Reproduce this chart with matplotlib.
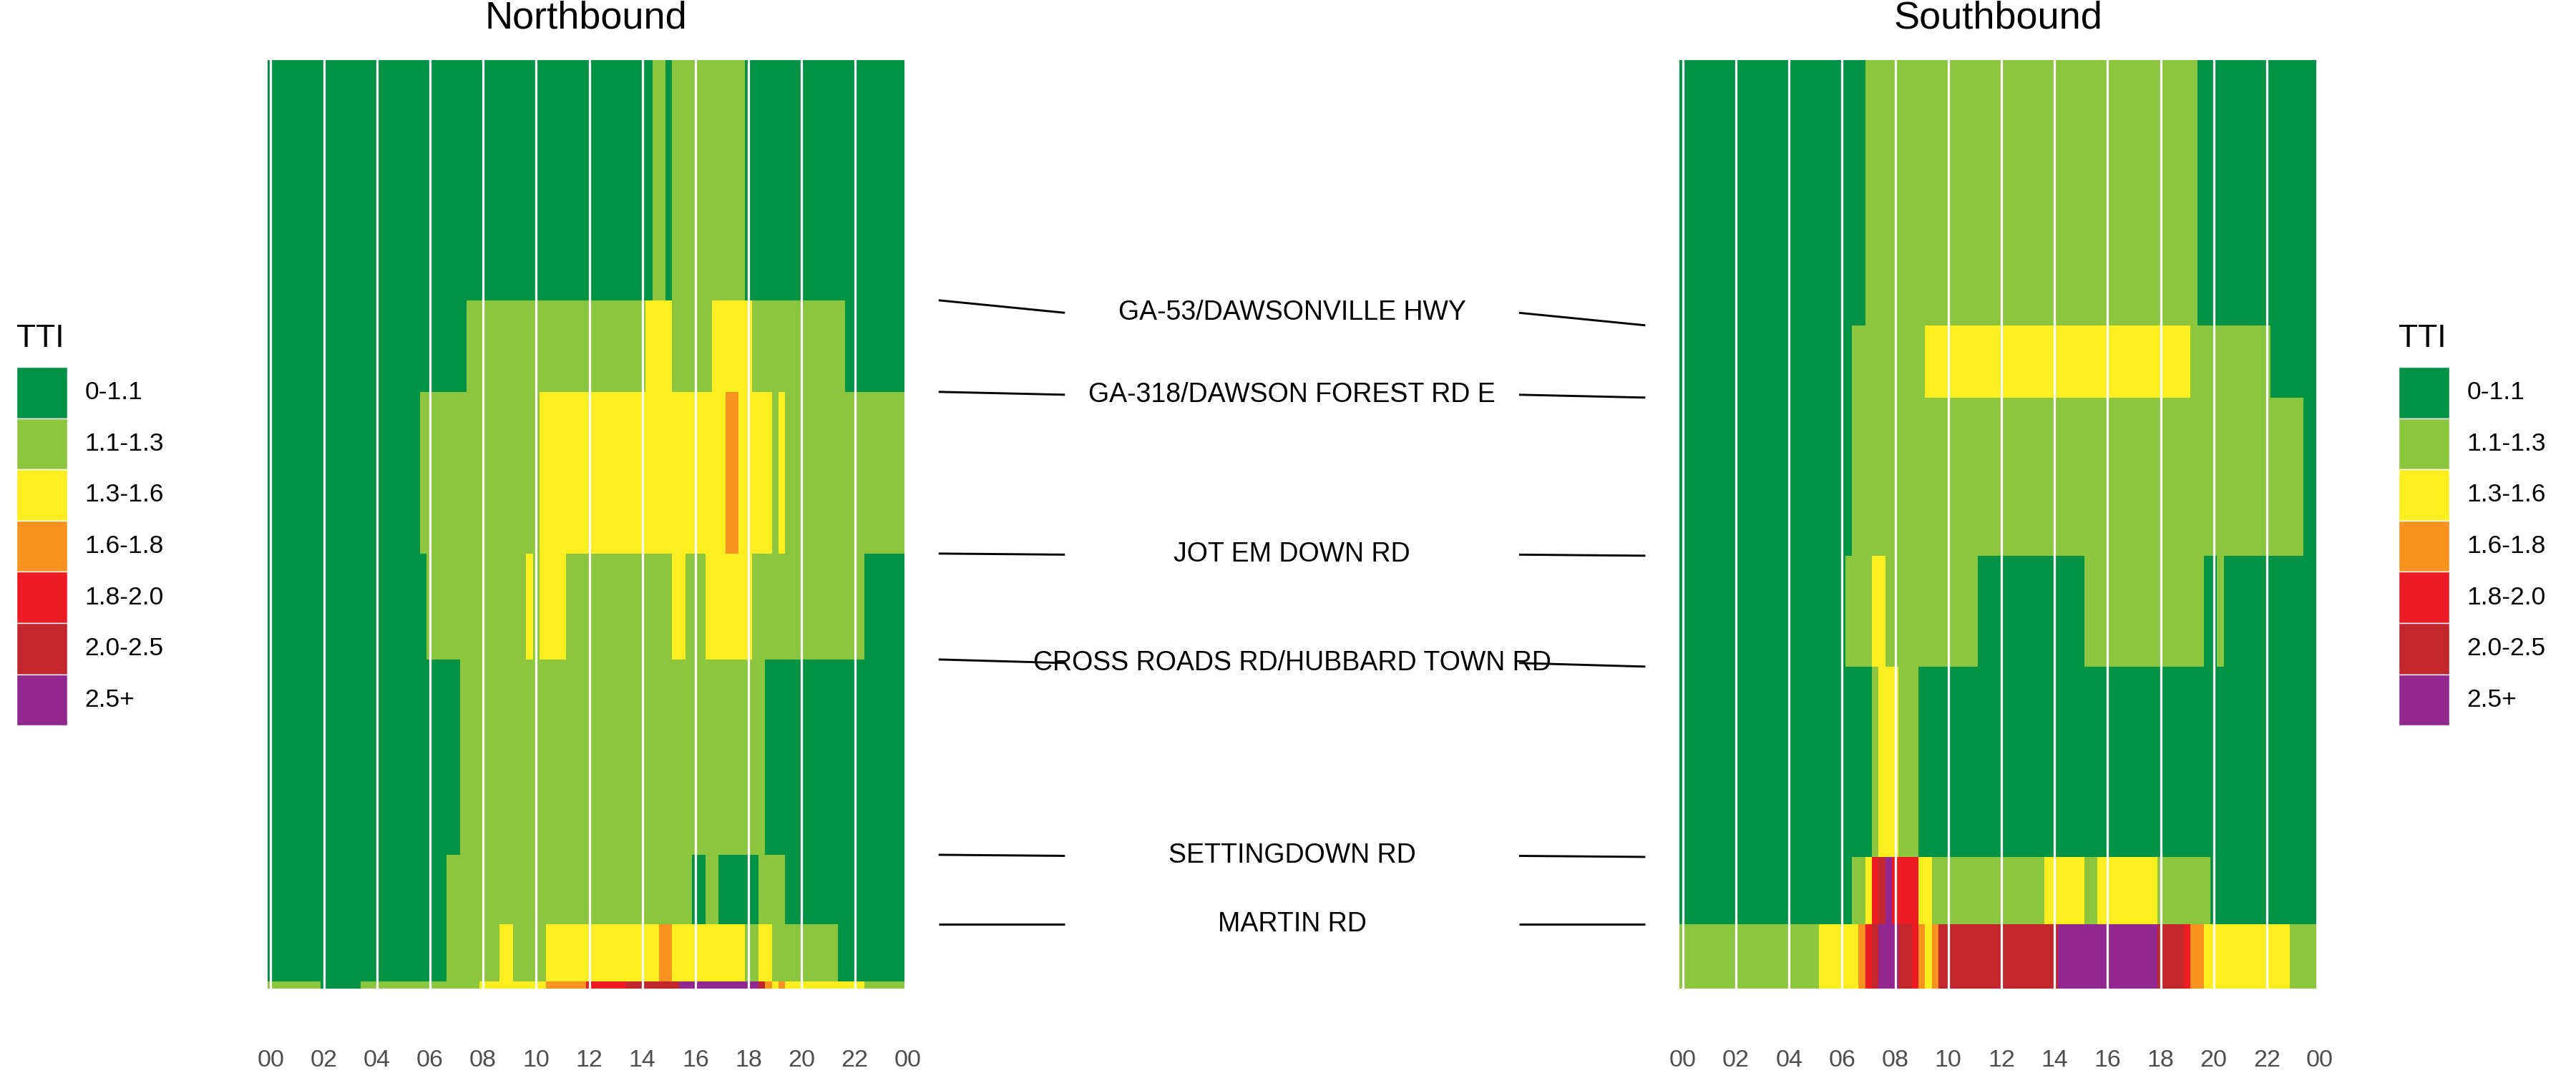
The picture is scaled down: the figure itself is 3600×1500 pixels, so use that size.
import numpy as np
import matplotlib

matplotlib.use("Agg")
import matplotlib.pyplot as plt
from matplotlib import transforms
from matplotlib.colors import ListedColormap

plt.rcParams["font.family"] = ["Liberation Sans", "DejaVu Sans"]

# TTI classes
tti_labels = ["0-1.1", "1.1-1.3", "1.3-1.6", "1.6-1.8", "1.8-2.0", "2.0-2.5", "2.5+"]
tti_colors = ["#009245", "#8CC63F", "#FCEE21", "#F7931E", "#ED1C24", "#C1272D", "#92278F"]

hour_ticks = [0, 2, 4, 6, 8, 10, 12, 14, 16, 18, 20, 22, 24]
hour_labels = ["00", "02", "04", "06", "08", "10", "12", "14", "16", "18", "20", "22", "00"]

# cross streets, south end first, with mile post per direction
cross_streets = [
    "MARTIN RD",
    "SETTINGDOWN RD",
    "CROSS ROADS RD/HUBBARD TOWN RD",
    "JOT EM DOWN RD",
    "GA-318/DAWSON FOREST RD E",
    "GA-53/DAWSONVILLE HWY",
]
nb_cross_mile = [0.90, 1.87, 4.60, 6.08, 8.34, 9.62]
sb_cross_mile = [0.90, 1.84, 4.50, 6.05, 8.26, 9.27]
nb_extra_break = [0.095]
corridor_end = 12.98

# one string per segment, north end first; one digit (TTI class) per 15 min, grouped per hour
nb_tti = [
    "0000 0000 0000 0000 0000 0000 0000 0000 0000 0000 0000 0000 0000 0000 0011 0111 1111 1111 0000 0000 0000 0000 0000 0000",
    "0000 0000 0000 0000 0000 0000 0000 0011 1111 1111 1111 1111 1111 1111 1222 2111 1112 2222 2111 1111 1111 1110 0000 0000",
    "0000 0000 0000 0000 0000 0001 1111 1111 1111 1111 1222 2222 2222 2222 2222 2222 2222 2332 2222 1211 1111 1111 1111 1111",
    "0000 0000 0000 0000 0000 0000 1111 1111 1111 1112 1222 2111 1111 1111 1111 1221 1122 2222 2111 1111 1111 1111 1100 0000",
    "0000 0000 0000 0000 0000 0000 0000 0111 1111 1111 1111 1111 1111 1111 1111 1111 1111 1111 1110 0000 0000 0000 0000 0000",
    "0000 0000 0000 0000 0000 0000 0001 1111 1111 1111 1111 1111 1111 1111 1111 1111 0011 0000 0011 1100 0000 0000 0000 0000",
    "0000 0000 0000 0000 0000 0000 0001 1111 1112 2111 1122 2222 2222 2222 2223 3222 2222 2222 1122 1111 1111 1100 0000 0000",
    "1111 1111 0000 0011 1111 1111 1111 1111 2222 2222 2233 3333 4444 4455 5555 5566 6666 6666 6653 2322 2222 2222 2211 1111",
]
sb_tti = [
    "0000 0000 0000 0000 0000 0000 0000 1111 1111 1111 1111 1111 1111 1111 1111 1111 1111 1111 1111 1100 0000 0000 0000 0000",
    "0000 0000 0000 0000 0000 0000 0011 1111 1111 1222 2222 2222 2222 2222 2222 2222 2222 2222 2222 2111 1111 1111 1000 0000",
    "0000 0000 0000 0000 0000 0000 0011 1111 1111 1111 1111 1111 1111 1111 1111 1111 1111 1111 1111 1111 1111 1111 1111 1100",
    "0000 0000 0000 0000 0000 0000 0111 1221 1111 1111 1111 1000 0000 0000 0000 0111 1111 1111 1111 1110 0100 0000 0000 0000",
    "0000 0000 0000 0000 0000 0000 0000 0122 2111 0000 0000 0000 0000 0000 0000 0000 0000 0000 0000 0000 0000 0000 0000 0000",
    "0000 0000 0000 0000 0000 0000 0011 2456 4444 2211 1111 1111 1111 1112 2222 2112 2222 2222 1111 1111 0000 0000 0000 0000",
    "1111 1111 1111 1111 1111 1222 2223 4566 6554 3235 5555 5555 5555 5555 5666 6666 6666 6666 5555 4332 2222 2222 2222 1111",
]

W, H = 3600, 1500
PLOT_TOP, PLOT_BOTTOM = 83.7, 1382
PX_PER_HOUR = 37.1
NB_ZERO_X, SB_ZERO_X = 378.3, 2351.7
HALF_BIN = 0.125

cmap = ListedColormap(tti_colors)


def box(x0, x1, y0, y1):
    """Pixel box (top-left origin) naar figure-fractie."""
    return [x0 / W, 1 - y1 / H, (x1 - x0) / W, (y1 - y0) / H]


def draw_panel(fig, zero_x, rows, edges, title):
    ax = fig.add_axes(box(zero_x - HALF_BIN * PX_PER_HOUR, zero_x + 24 * PX_PER_HOUR,
                          PLOT_TOP, PLOT_BOTTOM))
    codes = np.array([[int(c) for c in r.replace(" ", "")] for r in rows])[::-1]
    t_edges = np.arange(codes.shape[1] + 1) * 0.25 - HALF_BIN
    ax.pcolormesh(t_edges, edges, codes, cmap=cmap, vmin=-0.5, vmax=6.5,
                  shading="flat", antialiased=False, linewidth=0)
    for h in hour_ticks[:-1]:
        ax.axvline(h, color="white", lw=2.3)
    ax.set_xlim(-HALF_BIN, 24)
    ax.set_ylim(0, corridor_end)
    ax.set_xticks(hour_ticks, hour_labels)
    ax.tick_params(axis="x", length=0, pad=61, labelsize=24.5, labelcolor="#4D4D4D")
    ax.set_yticks([])
    for s in ax.spines.values():
        s.set_visible(False)
    trans = transforms.blended_transform_factory(ax.transData, fig.transFigure)
    ax.text((t_edges[0] + t_edges[-1]) / 2, 1 - 40 / H, title, transform=trans,
            ha="center", va="baseline", fontsize=39)
    return ax


def draw_legend(fig, x_key):
    key_w, key_h = 71, 71.6
    lax = fig.add_axes(box(x_key, x_key + key_w, 513, 513 + 7 * key_h))
    lax.barh(range(len(tti_colors)), 1, height=1, left=0, color=tti_colors,
             edgecolor="white", linewidth=1)
    lax.set_xlim(0, 1)
    lax.set_ylim(len(tti_colors) - 0.5, -0.5)
    lax.axis("off")
    for i, lab in enumerate(tti_labels):
        lax.text(1 + 24.6 / key_w, i, lab, ha="left", va="center", fontsize=25.5)
    fig.text(x_key / W, 1 - 485 / H, "TTI", ha="left", va="baseline", fontsize=32)


fig = plt.figure(figsize=(W / 100, H / 100), dpi=100)

nb_edges = [0] + nb_extra_break + nb_cross_mile + [corridor_end]
sb_edges = [0] + sb_cross_mile + [corridor_end]
draw_panel(fig, NB_ZERO_X, nb_tti, nb_edges, "Northbound")
draw_panel(fig, SB_ZERO_X, sb_tti, sb_edges, "Southbound")

# cross street labels between the panels
nb_right = NB_ZERO_X + (24 - HALF_BIN) * PX_PER_HOUR
sb_left = SB_ZERO_X - HALF_BIN * PX_PER_HOUR
mid = fig.add_axes(box(nb_right, sb_left, PLOT_TOP, PLOT_BOTTOM))
mid.set_xlim(0, 1)
mid.set_ylim(0, corridor_end)
mid.axis("off")
for name, n_mile, s_mile in zip(cross_streets, nb_cross_mile, sb_cross_mile):
    m = (n_mile + s_mile) / 2
    mid.plot([0.044, 0.207], [n_mile, m], color="black", lw=2.1, solid_capstyle="butt")
    mid.plot([0.793, 0.956], [m, s_mile], color="black", lw=2.1, solid_capstyle="butt")
    mid.text(0.5, m, name, ha="center", va="center", fontsize=27)

draw_legend(fig, 23)
draw_legend(fig, 3352)

fig.savefig("out.png", dpi=100)
